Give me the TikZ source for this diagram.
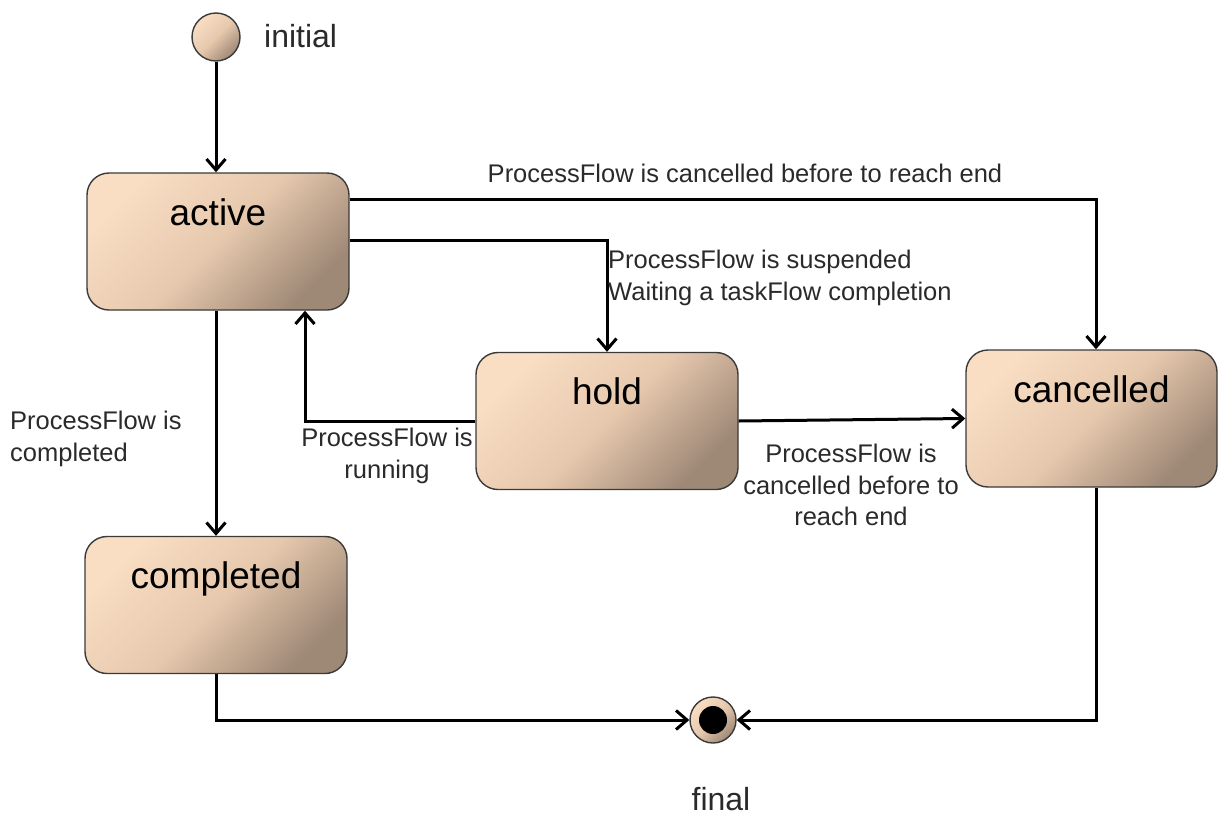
\documentclass[tikz,border=0pt]{standalone}
\usepackage{fontspec}
\setmainfont{Liberation Sans}
\usetikzlibrary{arrows.meta,positioning,calc}

\definecolor{stLight}{HTML}{F9DEC3}
\definecolor{stMid}{HTML}{E6C8AD}
\definecolor{stDark}{HTML}{9E8876}
\definecolor{stBorder}{HTML}{3A3A3A}
\definecolor{txt}{HTML}{2A2A2A}

\tikzset{
  stbody/.style={draw=stBorder, line width=1.4pt,
    top color=stLight, bottom color=stDark, middle color=stMid, shading angle=45},
  statebox/.style={stbody, rectangle, rounded corners=22pt,
    minimum width=262pt, minimum height=137pt, inner sep=0pt},
  sttitle/.style={anchor=base, font=\fontsize{37}{40}\selectfont, text=black},
  pseudo/.style={stbody, circle, inner sep=0pt},
  lbl/.style={font=\fontsize{25.5}{31.5}\selectfont, text=txt, inner sep=0pt},
  conn/.style={line width=3pt, draw=black,
    -{Straight Barb[length=11pt,width=19pt]}},
}

\begin{document}
\begin{tikzpicture}[x=1pt,y=-1pt]
  \useasboundingbox (0,0) rectangle (1219,817);

  % pseudo states
  \node[pseudo, minimum size=48pt] (initial) at (216,37) {};
  \node[pseudo, minimum size=46pt] (final) at (713,720) {};
  \fill[black] (final.center) circle (14pt);

  % states
  \node[statebox] (active)    at (218,241.5) {};
  \node[statebox] (hold)      at (607,421)   {};
  \node[statebox, minimum width=251pt] (cancelled) at (1091.5,418.5) {};
  \node[statebox] (completed) at (216,605)   {};

  \node[sttitle] (tActive)    at ([yshift=-53pt]active.north)    {active};
  \node[sttitle] (tHold)      at ([yshift=-53pt]hold.north)      {hold};
  \node[sttitle] (tCancelled) at ([yshift=-53pt]cancelled.north) {cancelled};
  \node[sttitle] (tCompleted) at ([yshift=-53pt]completed.north) {completed};

  % pseudo state names
  \node[lbl, anchor=base west, font=\fontsize{32}{36}\selectfont] (lInitial) at (264,47) {initial};
  \node[lbl, anchor=base, font=\fontsize{32}{36}\selectfont] (lFinal) at (721,810) {final};

  % transitions
  \draw[conn] (initial.south) -- (initial.south |- active.north);
  \draw[conn] ([yshift=-27pt]active.north east) -| ([xshift=4.5pt]cancelled.north);
  \draw[conn] ([yshift=-68pt]active.north east) -| (hold.north);
  \draw[conn] (active.south -| completed.north) -- (completed.north);
  \draw[conn] (hold.west) -| ([xshift=87pt]active.south);
  \draw[conn] (hold.east) -- (cancelled.west);
  \draw[conn] (completed.south) |- (final.west);
  \draw[conn] ([xshift=4.5pt]cancelled.south) |- (final.east);

  % transition labels
  \node[lbl, anchor=base] (lCancelTop) at (745,182)
    {ProcessFlow is cancelled before to reach end};
  \node[lbl, anchor=north west, align=left] (lSuspend) at (608,250)
    {ProcessFlow is suspended\\Waiting a taskFlow completion};
  \node[lbl, anchor=north west, align=left] (lCompleted) at (10,411)
    {ProcessFlow is\\completed};
  \node[lbl, anchor=north, align=center] (lRunning) at (387,428)
    {ProcessFlow is\\running};
  \node[lbl, anchor=north, align=center] (lCancelHold) at (851,444)
    {ProcessFlow is\\cancelled before to\\reach end};
\end{tikzpicture}
\end{document}
